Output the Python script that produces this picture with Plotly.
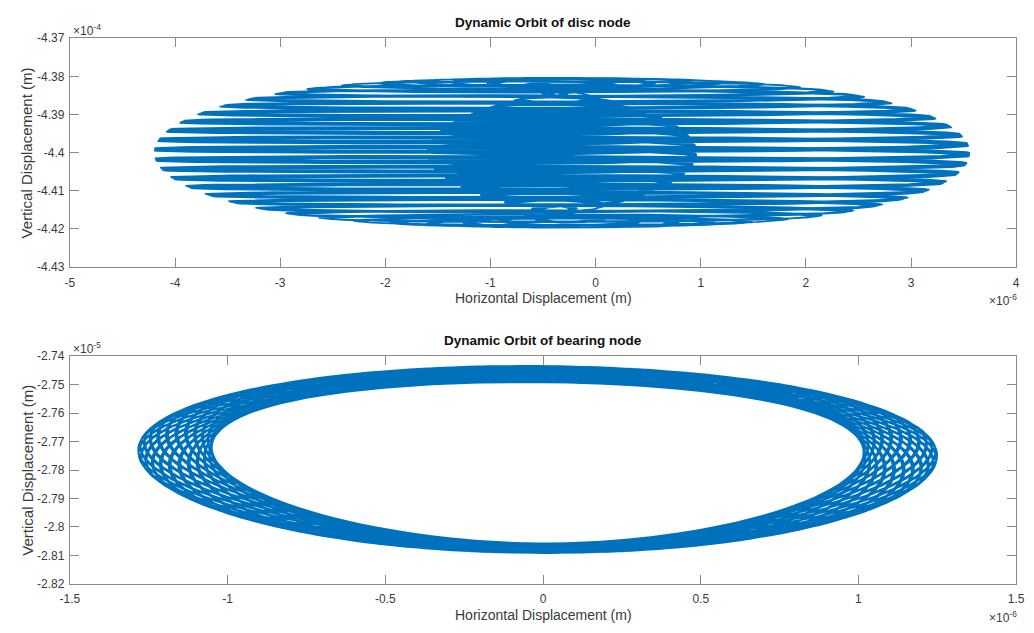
import numpy as np
import plotly.graph_objects as go

# ---------------- data ----------------
# Disc node orbit: harmonic components (x in 1e-6 m, y in 1e-4 m)
disc_center = [-0.32, -4.400]
disc_freq = [1.0, 1 + 1 / 46.06, 1 - 1 / 46.06, 1 / 46.06]   # cycles per shaft revolution
disc_amp_x = [1.30, 1.29, 1.29, 0.0]
disc_amp_y = [0.0012, 0.0, 0.0, 0.0185]
disc_phase_x = [0.0, 0.0, 0.0, 0.0]
disc_phase_y = [0.0, 0.0, 0.0, 0.0]
disc_revolutions = 276

# Bearing node orbit: harmonic components (x in 1e-6 m, y in 1e-5 m)
bear_center = [-0.017, -2.7752]
bear_freq = [1.0, 1 + 1 / 24.05, 2.0, 1 / 24.05]
bear_amp_x = [1.150, 0.117, 0.0, 0.0]
bear_amp_y = [0.0306, -0.00228, 0.00168, 0.00058]
bear_phase_x = [0.0, 0.0, 0.0, 0.0]
bear_phase_y = [-0.028, 0.0, np.pi / 2, -np.pi / 2]
bear_revolutions = 144

disc_xticks = [-5, -4, -3, -2, -1, 0, 1, 2, 3, 4]
disc_yticks = [-4.37, -4.38, -4.39, -4.40, -4.41, -4.42, -4.43]
disc_yticktext = ["-4.37", "-4.38", "-4.39", "-4.4", "-4.41", "-4.42", "-4.43"]
bear_xticks = [-1.5, -1, -0.5, 0, 0.5, 1, 1.5]
bear_yticks = [-2.74, -2.75, -2.76, -2.77, -2.78, -2.79, -2.80, -2.81, -2.82]
bear_yticktext = ["-2.74", "-2.75", "-2.76", "-2.77", "-2.78", "-2.79", "-2.8", "-2.81", "-2.82"]


def orbit(center, freq, ax, ay, px, py, revs, pts_per_rev):
    t = np.linspace(0, revs, int(revs * pts_per_rev) + 1)
    x = np.full_like(t, center[0])
    y = np.full_like(t, center[1])
    for f, a, b, p, q in zip(freq, ax, ay, px, py):
        x += a * np.cos(2 * np.pi * f * t + p)
        y += b * np.sin(2 * np.pi * f * t + q)
    return x, y


dx, dy = orbit(disc_center, disc_freq, disc_amp_x, disc_amp_y,
               disc_phase_x, disc_phase_y, disc_revolutions, 100)
bx, by = orbit(bear_center, bear_freq, bear_amp_x, bear_amp_y,
               bear_phase_x, bear_phase_y, bear_revolutions, 200)

LINE = "#0072BD"
AX = "#8a8a8a"
TXT = "#3a3a3a"
FONT = "Liberation Sans, Arial, sans-serif"

fig = go.Figure()
fig.add_trace(go.Scatter(x=dx, y=dy, mode="lines", line=dict(color=LINE, width=1.3),
                         xaxis="x", yaxis="y", showlegend=False, hoverinfo="skip"))
fig.add_trace(go.Scatter(x=bx, y=by, mode="lines", line=dict(color=LINE, width=1.6),
                         xaxis="x2", yaxis="y2", showlegend=False, hoverinfo="skip"))

W, H = 1034, 633
L, R = 61, 1025
top1, bot1 = 32, 266
top2, bot2 = 357, 590

common = dict(showline=True, linecolor=AX, linewidth=1, mirror="ticks", ticks="inside",
              ticklen=9, tickcolor=AX, showgrid=False, zeroline=False,
              tickfont=dict(family=FONT, size=12, color=TXT))

fig.update_layout(
    width=W, height=H, margin=dict(l=0, r=0, t=0, b=0),
    paper_bgcolor="white", plot_bgcolor="white",
    xaxis=dict(domain=[L / W, R / W], range=[-5, 4], anchor="y", ticklabelstandoff=4,
               tickvals=disc_xticks, ticktext=[str(v) for v in disc_xticks], **common),
    yaxis=dict(domain=[1 - bot1 / H, 1 - top1 / H], range=[-4.43, -4.37], anchor="x",
               ticklabelstandoff=2,
               tickvals=disc_yticks, ticktext=disc_yticktext, **common),
    xaxis2=dict(domain=[L / W, R / W], range=[-1.5, 1.5], anchor="y2", ticklabelstandoff=4,
                tickvals=bear_xticks, ticktext=[("%g" % v) for v in bear_xticks], **common),
    yaxis2=dict(domain=[1 - bot2 / H, 1 - top2 / H], range=[-2.82, -2.74], anchor="x2",
                ticklabelstandoff=2,
                tickvals=bear_yticks, ticktext=bear_yticktext, **common),
)

ann = [
    dict(text="<b>Dynamic Orbit of disc node</b>", x=(L + R) / 2 / W, y=1 - 16 / H,
         font=dict(size=13.5, color="#111")),
    dict(text="<b>Dynamic Orbit of bearing node</b>", x=(L + R) / 2 / W, y=1 - 341 / H,
         font=dict(size=13.5, color="#111")),
    dict(text="Horizontal Displacement (m)", x=(L + R) / 2 / W, y=1 - 298 / H,
         font=dict(size=14, color=TXT)),
    dict(text="Horizontal Displacement (m)", x=(L + R) / 2 / W, y=1 - 622 / H,
         font=dict(size=14, color=TXT)),
    dict(text="Vertical Displacement (m)", x=17 / W, y=1 - (top1 + bot1) / 2 / H,
         textangle=-90, font=dict(size=15, color=TXT)),
    dict(text="Vertical Displacement (m)", x=17 / W, y=1 - (top2 + bot2) / 2 / H,
         textangle=-90, font=dict(size=15, color=TXT)),
    dict(text="×10<sup>-4</sup>", x=62 / W, y=1 - 24 / H, xanchor="left",
         font=dict(size=12, color=TXT)),
    dict(text="×10<sup>-5</sup>", x=62 / W, y=1 - 349 / H, xanchor="left",
         font=dict(size=12, color=TXT)),
    dict(text="×10<sup>-6</sup>", x=1028 / W, y=1 - 300 / H, xanchor="right",
         font=dict(size=12, color=TXT)),
    dict(text="×10<sup>-6</sup>", x=1028 / W, y=1 - 624 / H, xanchor="right",
         font=dict(size=12, color=TXT)),
]
for a in ann:
    a.update(xref="paper", yref="paper", showarrow=False, yanchor="middle")
    a.setdefault("xanchor", "center")
    a["font"]["family"] = FONT
fig.update_layout(annotations=ann)

fig.write_html("out.html")
